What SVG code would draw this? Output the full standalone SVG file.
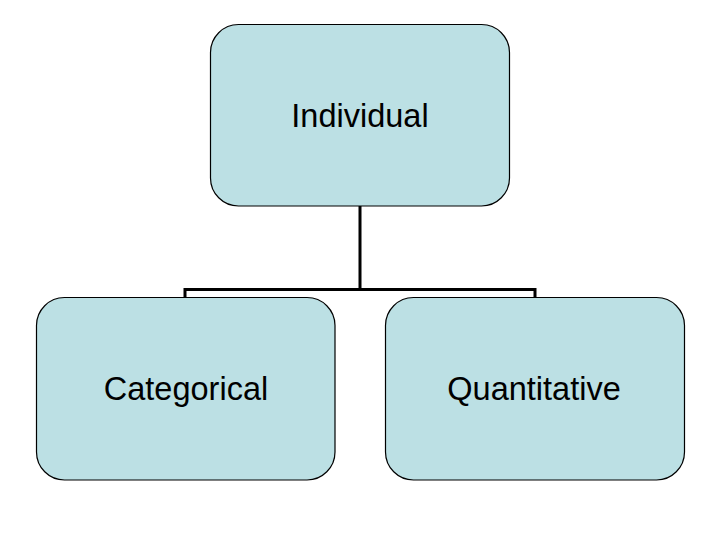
<svg xmlns="http://www.w3.org/2000/svg" width="720" height="540" viewBox="0 0 720 540">
<style>
.box{fill:#BCE0E4;stroke:#000;stroke-width:1.2}
.lbl{font-family:"Liberation Sans",Arial,sans-serif;font-size:32.5px;fill:#000;text-anchor:middle}
.conn{fill:none;stroke:#000;stroke-width:3}
</style>
<rect width="720" height="540" fill="#fff"/>
<g id="connectors">
<path class="conn" d="M360 206 V289.5 M185 297 V289.5 H535 V297"/>
</g>
<g id="individual">
<rect class="box" x="210.5" y="24.5" width="299" height="181.5" rx="28" ry="28"/>
<text class="lbl" x="360" y="127">Individual</text>
</g>
<g id="categorical">
<rect class="box" x="36.5" y="297.5" width="298.5" height="182.5" rx="28" ry="28"/>
<text class="lbl" x="186" y="400">Categorical</text>
</g>
<g id="quantitative">
<rect class="box" x="385.5" y="297.5" width="299" height="182.5" rx="28" ry="28"/>
<text class="lbl" x="534" y="400">Quantitative</text>
</g>
</svg>
